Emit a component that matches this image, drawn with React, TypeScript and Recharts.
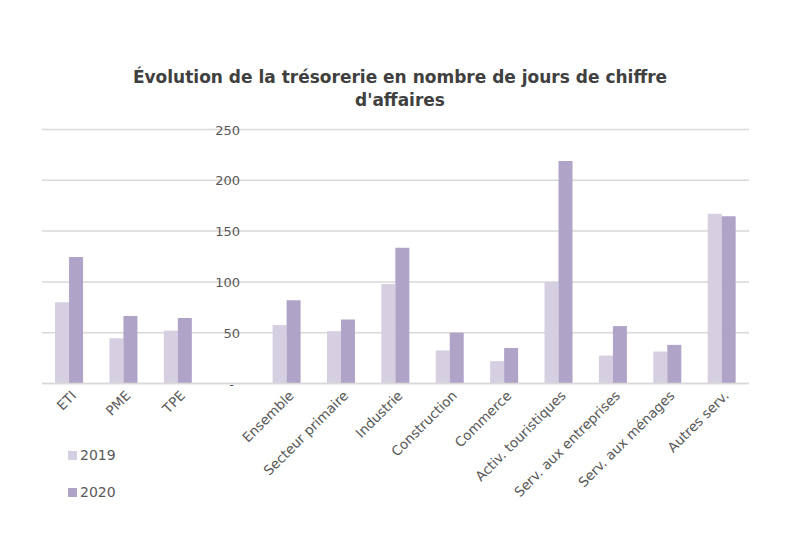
import React from 'react'
import { BarChart, Bar, XAxis, YAxis, CartesianGrid, Legend } from 'recharts'

const categories = ['ETI', 'PME', 'TPE', '', 'Ensemble', 'Secteur primaire', 'Industrie', 'Construction', 'Commerce', 'Activ. touristiques', 'Serv. aux entreprises', 'Serv. aux ménages', 'Autres serv.']
const values2019 = [80, 44.5, 52, null, 57.5, 51.5, 98, 32.5, 22, 100, 27.5, 31.5, 167]
const values2020 = [124.5, 66.5, 64.5, null, 82, 63, 133.5, 50, 35, 219, 56.5, 38, 164.5]
const yTicks = [0, 50, 100, 150, 200, 250]

const title1 = 'Évolution de la trésorerie en nombre de jours de chiffre'
const title2 = "d'affaires"

const font = '"DejaVu Sans", sans-serif'
const textColor = '#595959'
const color2019 = '#d6cfe2'
const color2020 = '#afa3c7'

const data = categories.map((c, i) => ({
  name: c || ' ',
  y2019: values2019[i],
  y2020: values2020[i],
}))

const XTick = (props: any) => {
  const { x, y, payload } = props
  const tx = x + 8
  const ty = y + 5
  return (
    <text x={tx} y={ty} transform={`rotate(-45, ${tx}, ${ty})`} textAnchor="end"
      fontFamily={font} fontSize={13.5} fill={textColor}>
      {payload.value}
    </text>
  )
}

// y labels sit in the empty slot between TPE and Ensemble
const YTick = (props: any) => {
  const { y, payload } = props
  const isZero = payload.value === 0
  return (
    <text x={isZero ? 234 : 240} y={y} dy={5} textAnchor="end"
      fontFamily={font} fontSize={13} fill={textColor}>
      {isZero ? '-' : payload.value}
    </text>
  )
}

const LegendContent = () => (
  <div style={{ fontFamily: font, fontSize: 14, color: textColor }}>
    {[['2019', color2019], ['2020', color2020]].map(([label, c], i) => (
      <div key={label} style={{ display: 'flex', alignItems: 'center', height: 18, marginBottom: i === 0 ? 19 : 0 }}>
        <span style={{ display: 'inline-block', width: 9, height: 9, background: c, marginRight: 3 }} />
        <span>{label}</span>
      </div>
    ))}
  </div>
)

export default function App() {
  return (
    <div style={{ position: 'absolute', left: 0, top: 0, width: 800, height: 535, background: '#fff' }}>
      <div style={{ position: 'absolute', left: 0, top: 66, width: 800, textAlign: 'center', fontFamily: font, fontWeight: 'bold', fontSize: 17, lineHeight: '23px', color: '#404040' }}>
        <div>{title1}</div>
        <div>{title2}</div>
      </div>
      <BarChart width={800} height={535} data={data}
        margin={{ top: 129.5, right: 51, left: 41, bottom: 11.5 }}
        barCategoryGap="24%" barGap={0}>
        <CartesianGrid vertical={false} stroke="#d9d9d9" strokeWidth={1.5} />
        <XAxis dataKey="name" interval={0} height={140} tick={<XTick />}
          axisLine={{ stroke: '#d9d9d9', strokeWidth: 1.5 }} tickLine={false} />
        <YAxis width={1} domain={[0, 250]} ticks={yTicks} tick={<YTick />}
          axisLine={false} tickLine={false} />
        <Legend layout="vertical" align="center" verticalAlign="middle"
          wrapperStyle={{ left: 68, top: 446, width: 80, height: 60 }} content={<LegendContent />} />
        <Bar dataKey="y2019" name="2019" fill={color2019} isAnimationActive={false} />
        <Bar dataKey="y2020" name="2020" fill={color2020} isAnimationActive={false} />
      </BarChart>
    </div>
  )
}
